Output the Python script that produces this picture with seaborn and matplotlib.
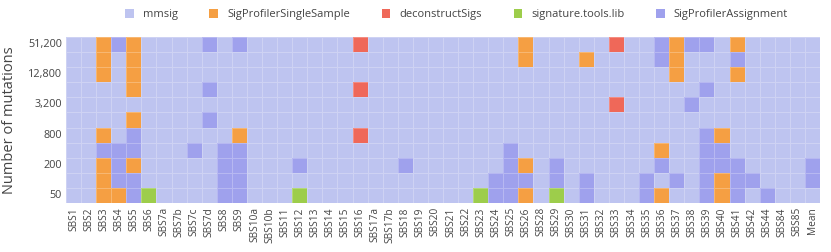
import numpy as np
import pandas as pd
import matplotlib
matplotlib.use('Agg')
import matplotlib.pyplot as plt
from matplotlib.colors import ListedColormap
from matplotlib.patches import Patch
import seaborn as sns

sns.set_style('white')
plt.rcParams['font.family'] = ['Open Sans', 'DejaVu Sans']

signatures = ['SBS1', 'SBS2', 'SBS3', 'SBS4', 'SBS5', 'SBS6', 'SBS7a', 'SBS7b', 'SBS7c', 'SBS7d',
              'SBS8', 'SBS9', 'SBS10a', 'SBS10b', 'SBS11', 'SBS12', 'SBS13', 'SBS14', 'SBS15', 'SBS16',
              'SBS17a', 'SBS17b', 'SBS18', 'SBS19', 'SBS20', 'SBS21', 'SBS22', 'SBS23', 'SBS24', 'SBS25',
              'SBS26', 'SBS28', 'SBS29', 'SBS30', 'SBS31', 'SBS32', 'SBS33', 'SBS34', 'SBS35', 'SBS36',
              'SBS37', 'SBS38', 'SBS39', 'SBS40', 'SBS41', 'SBS42', 'SBS44', 'SBS84', 'SBS85', 'Mean']
mutations = [51200, 25600, 12800, 6400, 3200, 1600, 800, 400, 200, 100, 50]
ytick_values = [51200, 12800, 3200, 800, 200, 50]
tools = ['mmsig', 'SigProfilerSingleSample', 'deconstructSigs', 'signature.tools.lib', 'SigProfilerAssignment']
tool_colors = ['#bec4f0', '#f59f43', '#ef6859', '#9dcd4b', '#9fa1ed']

# best tool per cell (index into tools), one string per row, top row = 51,200
# groups of 10 columns separated by spaces
best_tool = [
    '0014100004 0400000002 0000000000 1000002004 1440100000',
    '0010100000 0000000000 0000000000 1000100004 1000400000',
    '0010100000 0000000000 0000000000 0000000000 1000100000',
    '0000100004 0000000002 0000000000 0000000000 0040000000',
    '0000000000 0000000000 0000000000 0000002000 0400000000',
    '0000100004 0000000000 0000000000 0000000000 0000000000',
    '0010400000 0100000002 0000000000 0000000000 0041000000',
    '0044400040 4400000000 0000000004 0000000001 0044000000',
    '0014100000 4400040000 0040000004 1040000004 0044400004',
    '0014400000 4400000000 0000000044 4040400040 4041440004',
    '0011430000 4400030000 0000000344 1030400041 0041404000',
]


def montar_matriz():
    linhas = [[int(c) for c in linha.replace(' ', '')] for linha in best_tool]
    return pd.DataFrame(linhas, index=mutations, columns=signatures)


def plot_heatmap(df):
    fig = plt.figure(figsize=(8.31, 2.52), dpi=100)
    ax = fig.add_axes([66 / 831, 1 - 203 / 252, 754 / 831, 166 / 252])
    sns.heatmap(df, cmap=ListedColormap(tool_colors), vmin=-0.5, vmax=4.5, cbar=False,
                linewidths=0.6, linecolor=(1, 1, 1, 0.25), ax=ax)
    ax.set_xticks(np.arange(len(signatures)) + 0.5)
    ax.set_xticklabels(signatures, rotation=90, fontsize=7.3, color='#444444')
    pos = [mutations.index(v) + 0.5 for v in ytick_values]
    ax.set_yticks(pos)
    ax.set_yticklabels([f'{v:,}' for v in ytick_values], rotation=0, fontsize=7.8, color='#444444')
    ax.tick_params(length=0, pad=3)
    ax.set_ylabel('Number of mutations', fontsize=10.5, color='#444444', labelpad=8)
    ax.set_xlabel('')
    handles = [Patch(facecolor=c, edgecolor='none') for c in tool_colors]
    ax.legend(handles, tools, loc='lower center', bbox_to_anchor=(0.518, 1.04), ncol=5,
              frameon=False, fontsize=8, handlelength=0.8, handleheight=0.8,
              columnspacing=2.85, handletextpad=0.8, labelcolor='#444444')
    fig.savefig('out.png', dpi=100)


def main():
    df = montar_matriz()
    plot_heatmap(df)


if __name__ == '__main__':
    main()
